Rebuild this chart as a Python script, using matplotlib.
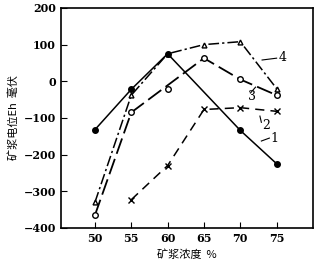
import matplotlib
matplotlib.use("Agg")
import matplotlib.pyplot as plt

plt.rcParams['font.family'] = ['DejaVu Serif', 'Noto Sans CJK SC']

# curve 1: solid, filled dots
x1 = [50, 55, 60, 70, 75]
y1 = [-132, -22, 75, -134, -225]
# curve 2: dashed, crosses
x2 = [55, 60, 65, 70, 75]
y2 = [-323, -230, -77, -72, -82]
# curve 3: long dash, open circles (60% point lies off the curve)
x3 = [50, 55, 65, 70, 75]
y3 = [-365, -85, 63, 5, -38]
x3_off = [60]
y3_off = [-22]
# curve 4: dash-dot, triangles
x4 = [50, 55, 60, 65, 70, 75]
y4 = [-330, -38, 75, 100, 108, -20]

xticks = [50, 55, 60, 65, 70, 75]
yticks = [-400, -300, -200, -100, 0, 100, 200]

fig = plt.figure(figsize=(3.2, 2.65), dpi=100)
ax = fig.add_axes([0.19, 0.14, 0.788, 0.83])

ax.plot(x4, y4, color='black', lw=1.1, ls=(0, (7, 2, 1.5, 2)), marker='^', ms=3.5,
        mfc='white', mec='black')
ax.plot(x1, y1, color='black', lw=1.1, ls='-', marker='o', ms=4,
        mfc='black', mec='black')
ax.plot(x2, y2, color='black', lw=1.1, ls=(0, (6, 4)), marker='x', ms=4)
ax.plot(x3, y3, color='black', lw=1.3, ls=(0, (9, 3)), marker='o', ms=4,
        mfc='white', mec='black')
ax.plot(x3_off, y3_off, ls='none', marker='o', ms=4, mfc='white', mec='black')

# curve numbers with leader lines
labels = ['1', '2', '3', '4']
lab_xy = [(74.2, -155), (73.0, -122), (71.0, -42), (75.3, 66)]
lead_from = [(72.9, -163), (72.7, -95), (72.1, -16), (73.0, 58)]
lead_to = [(74.0, -155), (72.9, -112), (71.4, -32), (75.0, 63)]
for t, (tx, ty), (ax0, ay0), (ax1, ay1) in zip(labels, lab_xy, lead_from, lead_to):
    ax.plot([ax0, ax1], [ay0, ay1], color='black', lw=0.8)
    ax.text(tx, ty, t, fontsize=9, ha='left', va='center')

ax.set_xlim(45.3, 80)
ax.set_ylim(-400, 200)
ax.set_xticks(xticks)
ax.set_yticks(yticks)
ax.tick_params(direction='in', length=4, labelsize=8)
for lab in ax.get_yticklabels() + ax.get_xticklabels():
    lab.set_fontweight('bold')

ax.set_xlabel('矿浆浓度  %', fontsize=8, family=['Noto Sans CJK SC', 'DejaVu Sans'])
ax.set_ylabel('矿浆电位Eh  毫伏', fontsize=8, family=['Noto Sans CJK SC', 'DejaVu Sans'],
              labelpad=3)
for s in ax.spines.values():
    s.set_linewidth(1.2)

fig.savefig('out.png', dpi=100)
